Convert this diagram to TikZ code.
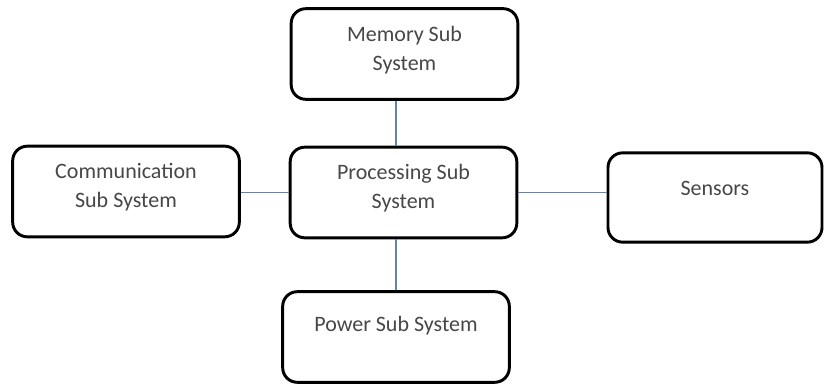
\documentclass[tikz,border=0pt]{standalone}
\usepackage{fontspec}
\setmainfont{Carlito}
\usepackage{xcolor}
\usetikzlibrary{positioning}
\definecolor{linkblue}{HTML}{5A84BA}
\tikzset{
    subsys/.style={draw, line width=2.2pt, rounded corners=11pt,
        minimum width=170pt, minimum height=68pt, inner sep=0pt},
    subtext/.style={align=center, text=black!72,
        font=\fontsize{16.5}{21.8}\selectfont},
    link/.style={draw=linkblue, line width=0.85pt}
}

\begin{document}
\begin{tikzpicture}[x=0.75pt, y=-0.75pt]
    \useasboundingbox (0, 0) rectangle (826, 385);

    % boxes
    \node[subsys] (mem) at (404.5, 54) {};
    \node[subsys] (comm) at (126, 191.5) {};
    \node[subsys] (proc) at (403.5, 192.5) {};
    \node[subsys, minimum width=160.5pt, minimum height=67pt] (sens) at (715, 197.5) {};
    \node[subsys] (pow) at (396, 337) {};

    % texts
    \node[subtext] (memtext) at ([yshift=3pt]mem.center) {Memory Sub\\System};
    \node[subtext] (commtext) at ([yshift=3pt]comm.center) {Communication\\Sub System};
    \node[subtext] (proctext) at ([yshift=3.3pt]proc.center) {Processing Sub\\System};
    \node[subtext] (senstext) at ([yshift=7pt]sens.center) {Sensors};
    \node[subtext] (powtext) at ([yshift=8.2pt]pow.center) {Power Sub System};

    % links
    \draw[link]
    (mem.south -| pow) -- (proc.north -| pow)
    (comm.east |- proc) -- (proc.west)
    (proc.east) -- (sens.west |- proc)
    (proc.south -| pow) -- (pow.north);
\end{tikzpicture}
\end{document}
